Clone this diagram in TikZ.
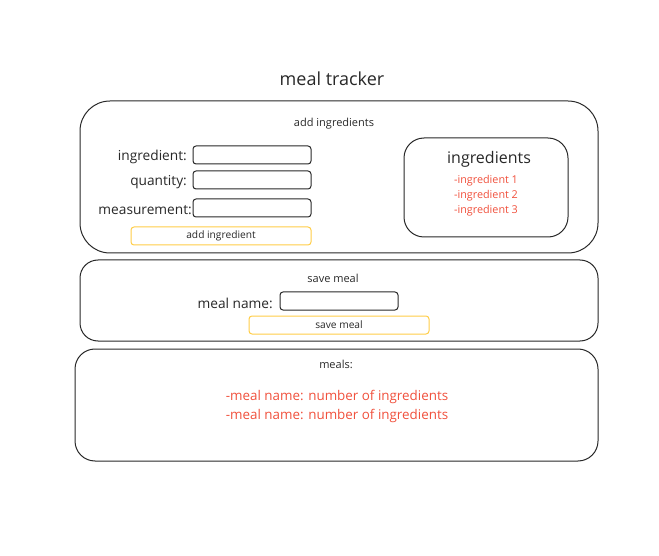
\documentclass[tikz,border=0pt]{standalone}
\usepackage{fontspec}
\setmainfont{Open Sans}
\definecolor{redtxt}{RGB}{240,80,60}
\definecolor{ybtn}{RGB}{255,205,70}
\definecolor{line}{RGB}{40,40,40}
\definecolor{txt}{RGB}{40,40,40}
\tikzset{
  panel/.style={draw=line, line width=1pt, rounded corners=#1},
  field/.style={draw=line, line width=1pt, rounded corners=3, minimum width=118, minimum height=18, inner sep=0},
  btn/.style={draw=ybtn, line width=1pt, rounded corners=3, minimum width=180, minimum height=18, inner sep=0, font=\fontsize{10.2}{12}\selectfont, text=txt},
  lbl/.style={font=\fontsize{13.7}{16}\selectfont, text=txt, anchor=east, inner sep=0},
  small/.style={font=\fontsize{11}{12}\selectfont, text=txt, inner sep=0},
  redl/.style={font=\fontsize{10.8}{12}\selectfont, text=redtxt, inner sep=0},
  redbig/.style={font=\fontsize{13.4}{16}\selectfont, text=redtxt, inner sep=0}
}
\begin{document}
\begin{tikzpicture}[x=1pt,y=-1pt]
\useasboundingbox (0,0) rectangle (659,556);
\node[font=\fontsize{18}{20}\selectfont, text=txt, inner sep=0] (title) at (332,79) {meal tracker};
% panel 1
\draw[panel=30] (80,101) rectangle (598,253);
\node[small] (addh) at (334,124) {add ingredients};
\node[field] (f1) at (252,155) {};
\node[field] (f2) at (252,180) {};
\node[field] (f3) at (252,208) {};
\node[lbl] (l1) at (187,157) {ingredient:};
\node[lbl] (l2) at (187,182) {quantity:};
\node[lbl] (l3) at (192,210) {measurement:};
\node[btn] (b1) at (221,236) {\raisebox{-1pt}{add ingredient}};
\draw[panel=20] (404,138) rectangle (568,237);
\node[font=\fontsize{16}{18}\selectfont, text=txt, inner sep=0] (ingh) at (489,159) {ingredients};
\node[redl] (i1) at (486,181) {-ingredient 1};
\node[redl] (i2) at (486,196) {-ingredient 2};
\node[redl] (i3) at (486,211) {-ingredient 3};
% panel 2
\draw[panel=18] (80,260) rectangle (598,341);
\node[small] (saveh) at (333,278) {save meal};
\node[lbl] (mn) at (273,303) {meal name:};
\node[field] (f4) at (339,301) {};
\node[btn] (b2) at (339,325) {\raisebox{-1pt}{save meal}};
% panel 3
\draw[panel=20] (75,349) rectangle (598,461);
\node[small] (mealsh) at (336,364) {meals:};
\node[redbig] (m1) at (337,397) {-meal name: number of ingredients};
\node[redbig] (m2) at (337,416) {-meal name: number of ingredients};
\end{tikzpicture}
\end{document}
